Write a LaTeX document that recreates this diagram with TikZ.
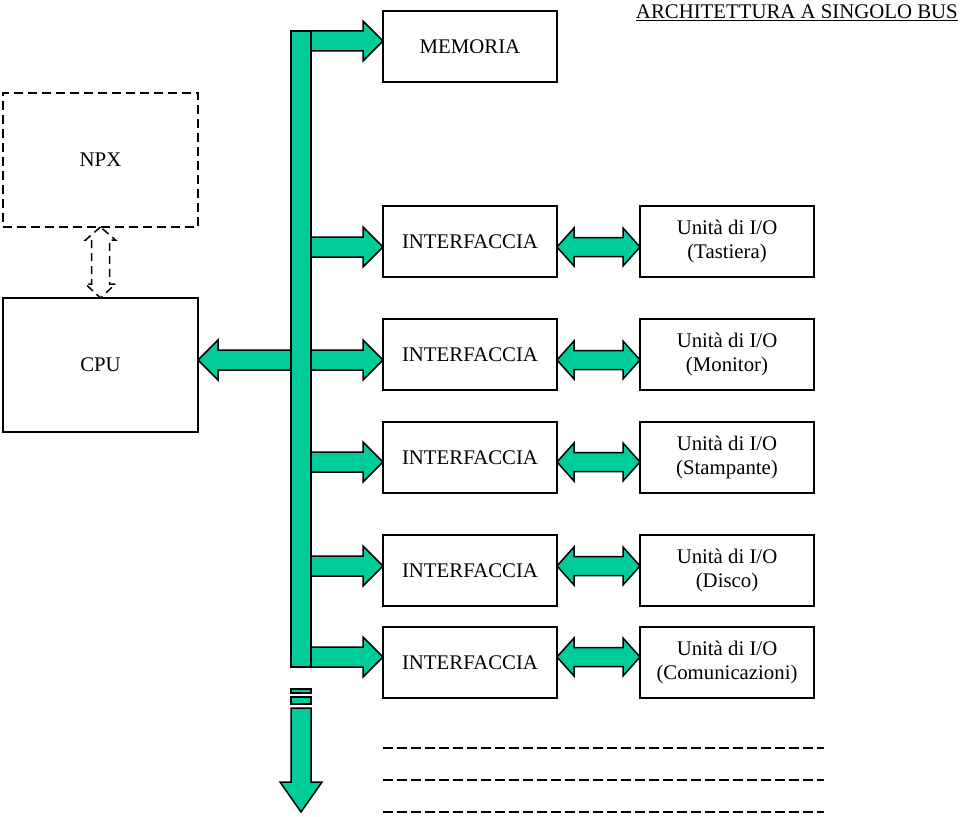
\documentclass[tikz,border=0pt]{standalone}
\usepackage{fontspec}
\setmainfont{Liberation Serif}
\usetikzlibrary{calc,backgrounds}
\definecolor{busgreen}{RGB}{0,204,153}
\tikzset{
  box/.style={draw, line width=1.5pt, minimum width=174, minimum height=71,
    inner sep=0pt, outer sep=0pt, align=center},
  bigbox/.style={box, minimum width=195, minimum height=134},
  blockarrow/.style={draw, fill=busgreen, line width=1.5pt, line join=miter},
  npxarrow/.style={draw, line width=1.5pt, dash pattern=on 8pt off 5pt},
  dashline/.style={line width=1.8pt, dash pattern=on 10pt off 4pt}
}
% block arrow: tail x from #1, tip at #2
\newcommand{\blockarrow}[2]{%
  \draw[blockarrow] let \p1=(#1), \p2=(#2), \n1={ifthenelse(\x2>\x1,1,-1)} in
    (\x1,{\y2+10pt}) -- ({\x2-(\n1)*20pt},{\y2+10pt}) -- ({\x2-(\n1)*20pt},{\y2+20pt})
    -- (\x2,\y2) -- ({\x2-(\n1)*20pt},{\y2-20pt}) -- ({\x2-(\n1)*20pt},{\y2-10pt})
    -- (\x1,{\y2-10pt}) -- cycle;}
% double block arrow between #1 and the x of #2
\newcommand{\dblarrow}[2]{%
  \draw[blockarrow] let \p1=(#1), \p2=(#2) in
    (\x1,\y1) -- ({\x1+17pt},{\y1+19pt}) -- ({\x1+17pt},{\y1+9.5pt})
    -- ({\x2-17pt},{\y1+9.5pt}) -- ({\x2-17pt},{\y1+19pt}) -- (\x2,\y1)
    -- ({\x2-17pt},{\y1-19pt}) -- ({\x2-17pt},{\y1-9.5pt})
    -- ({\x1+17pt},{\y1-9.5pt}) -- ({\x1+17pt},{\y1-19pt}) -- cycle;}

\begin{document}
\begin{tikzpicture}[x=1pt, y=-1pt, every node/.style={font=\fontsize{20.8}{24}\selectfont}]
  \useasboundingbox (0,0) rectangle (960,816);

  \node[anchor=base east, inner sep=0pt] (title) at (958,19) {\underline{ARCHITETTURA A SINGOLO BUS}};

  % bus
  \node[blockarrow, minimum width=20, minimum height=636, inner sep=0pt, outer sep=0pt] (bus) at (301,349) {};

  \node[box] (mem) at (470,46.5) {MEMORIA};
  \node[bigbox, dash pattern=on 9pt off 5pt] (npx) at (100.5,160) {NPX};
  \node[bigbox] (cpu) at (100.5,365) {CPU};

  \blockarrow{bus.east}{$(mem.west)+(0,-5.5)$}
  \begin{scope}[on background layer]
    \blockarrow{bus.east}{$(cpu.east)+(0,-5)$}
  \end{scope}

  \draw[npxarrow] (npx.south) -- ++(-15,13) -- ++(6,0) -- ($(cpu.north)+(-9,-14)$) -- ++(-6,0)
    -- (cpu.north) -- ++(15,-14) -- ++(-6,0) -- ($(npx.south)+(9,13)$) -- ++(6,0) -- cycle;

  \foreach \i/\yc/\dy/\dev in {1/241.5/5.5/Tastiera, 2/354.5/5.5/Monitor,
      3/457.5/4.5/Stampante, 4/570.5/-4.5/Disco, 5/662.5/-5.5/Comunicazioni} {
    \node[box] (if\i) at (470,\yc) {INTERFACCIA};
    \node[box] (uio\i) at (727,\yc) {Unità di I/O\\(\dev)};
    \blockarrow{bus.east}{$(if\i.west)+(0,\dy)$}
    \dblarrow{$(if\i.east)+(0,\dy)$}{uio\i.west}
  }

  % bus continues
  \draw[blockarrow] ($(bus.south west)+(0,22)$) rectangle ($(bus.south east)+(0,26)$);
  \draw[blockarrow] ($(bus.south west)+(0,30)$) rectangle ($(bus.south east)+(0,37)$);
  \draw[blockarrow] ($(bus.south west)+(0,41)$) -- ($(bus.south west)+(0,115)$) -- ++(-11,0)
    -- ($(bus.south)+(0,145)$) -- ($(bus.south east)+(11,115)$) -- ++(-11,0)
    -- ($(bus.south east)+(0,41)$) -- cycle;

  \foreach \yy in {748,780,812}
    \draw[dashline] (383,\yy) -- (824,\yy);
\end{tikzpicture}
\end{document}
